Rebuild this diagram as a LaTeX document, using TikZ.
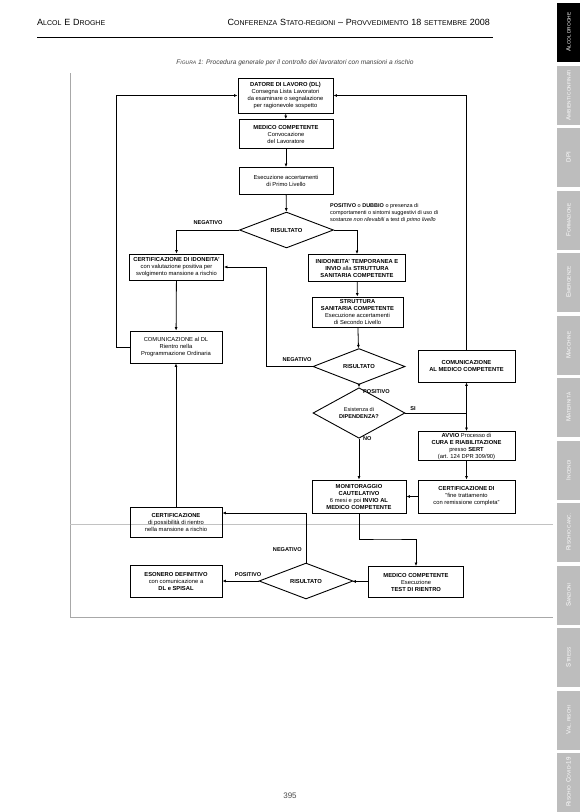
\documentclass[tikz,border=0pt]{standalone}
\usepackage{fontspec}
\setmainfont{Liberation Sans}
\usetikzlibrary{arrows.meta,shapes.geometric,calc}
\newcommand\hdsc[2]{{\fontsize{9}{10}\selectfont #1}{\fontsize{7}{8}\selectfont #2}}
\newcommand\tbsc[2]{{\fontsize{6.2}{7}\selectfont #1}{\fontsize{4.8}{6}\selectfont #2}}
\definecolor{tabgray}{HTML}{BDBDBD}
\definecolor{framegray}{HTML}{A8A8A8}
\begin{document}
\begin{tikzpicture}[x=1pt,y=-1pt,
  bx/.style args={#1x#2}{draw, line width=0.9pt, minimum width=#1, minimum height=#2, inner sep=0pt, align=center, font=\fontsize{5.8}{7}\selectfont},
  dia/.style args={#1x#2}{draw, shape=diamond, line width=0.9pt, minimum width=#1, minimum height=#2, inner sep=0pt, align=center, font=\fontsize{5.8}{7}\selectfont\bfseries},
  arr/.style={line width=0.8pt, -{Latex[length=3.5pt,width=3pt]}},
  ln/.style={line width=0.8pt},
  lbl/.style={inner sep=0pt, font=\fontsize{5.6}{6.6}\selectfont\bfseries},
  tab/.style={fill=tabgray, minimum width=59, minimum height=23, inner sep=0pt, rotate=90, text=white}]
\useasboundingbox (0,0) rectangle (580,812);
\fill[white] (0,0) rectangle (580,812);
% header
\node[anchor=base west, inner sep=0pt] (hl) at (37,25) {\hdsc{A}{LCOL} \hdsc{E}{} \hdsc{D}{ROGHE}};
\node[anchor=base east, inner sep=0pt] (hr) at (490,25) {\hdsc{C}{ONFERENZA} \hdsc{S}{TATO-REGIONI} {\fontsize{9}{10}\selectfont --} \hdsc{P}{ROVVEDIMENTO} {\fontsize{9}{10}\selectfont 18} \hdsc{}{SETTEMBRE} {\fontsize{9}{10}\selectfont 2008}};
\draw[line width=0.8pt] (37,37) -- (493,37);
% sidebar tabs
\node[tab, fill=black] (t0) at (568.5,32) {\tbsc{A}{LCOL DROGHE}};
\node[tab] (t1) at (568.5,95) {\tbsc{A}{MBIENTI CONFINATI}};
\node[tab] (t2) at (568.5,157) {\tbsc{DPI}{}};
\node[tab] (t3) at (568.5,220) {\tbsc{F}{ORMAZIONE}};
\node[tab] (t4) at (568.5,282) {\tbsc{E}{MERGENZE}};
\node[tab] (t5) at (568.5,345) {\tbsc{M}{ACCHINE}};
\node[tab] (t6) at (568.5,407) {\tbsc{M}{ATERNITÀ}};
\node[tab] (t7) at (568.5,470) {\tbsc{I}{NCENDI}};
\node[tab] (t8) at (568.5,532) {\tbsc{R}{ISCHIO CANC.}};
\node[tab] (t9) at (568.5,595) {\tbsc{S}{ANZIONI}};
\node[tab] (t10) at (568.5,657) {\tbsc{S}{TRESS}};
\node[tab] (t11) at (568.5,720) {\tbsc{V}{AL. RISCHI}};
\node[tab] (t12) at (568.5,782) {\tbsc{R}{ISCHIO} \tbsc{C}{OVID}{\fontsize{6.2}{7}\selectfont -19}};
% caption
\node[inner sep=0pt, text=black!75, font=\fontsize{6.6}{8}\selectfont\itshape] (cap) at (295,63) {{\fontsize{6.6}{8}\selectfont F}{\fontsize{5}{6}\selectfont IGURA} 1: Procedura generale per il controllo dei lavoratori con mansioni a rischio};
% frame
\draw[framegray, line width=0.6pt] (70,73) -- (70,617) -- (553,617);
\draw[framegray!70, line width=0.6pt] (70,524) -- (553,524);
% page number
\node[text=black!70, font=\fontsize{8}{9}\selectfont] (pg) at (290,796) {395};
% boxes
\node[bx=95x35] (datore) at (285.5,95.5) {\textbf{DATORE DI LAVORO (DL)}\\Consegna Lista Lavoratori\\da esaminare o segnalazione\\per ragionevole sospetto};
\node[bx=94x29] (medico) at (286,134) {\textbf{MEDICO COMPETENTE}\\Convocazione\\del Lavoratore};
\node[bx=94x27] (esec) at (286,181) {Esecuzione accertamenti\\di Primo Livello};
\node[dia=94x34] (ris1) at (286.5,230) {RISULTATO};
\node[bx=94x26] (cid) at (176.5,267) {\textbf{CERTIFICAZIONE DI IDONEITA'}\\con valutazione positiva per\\svolgimento mansione a rischio};
\node[bx=97x27] (inid) at (357,268) {\textbf{INIDONEITA' TEMPORANEA E}\\\textbf{INVIO} alla \textbf{STRUTTURA}\\\textbf{SANITARIA COMPETENTE}};
\node[bx=91x30] (strutt) at (357.5,312) {\textbf{STRUTTURA}\\\textbf{SANITARIA COMPETENTE}\\Esecuzione accertamenti\\di Secondo Livello};
\node[bx=92x32] (comdl) at (176,347) {COMUNICAZIONE al DL\\Rientro nella\\Programmazione Ordinaria};
\node[dia=92x34] (ris2) at (359,366.5) {RISULTATO};
\node[bx=97x32] (commc) at (466.5,366) {\textbf{COMUNICAZIONE}\\\textbf{AL MEDICO COMPETENTE}};
\node[dia=92x28, font=\fontsize{5.6}{6.6}\selectfont] (dip) at (359,413) {Esistenza di\\\textbf{DIPENDENZA?}};
\node[bx=97x29] (avvio) at (466.5,446) {\textbf{AVVIO} Processo di\\\textbf{CURA E RIABILITAZIONE}\\presso \textbf{SERT}\\(art. 124 DPR 309/90)};
\node[bx=97x33] (certfine) at (466.5,496.5) {\textbf{CERTIFICAZIONE DI}\\"fine trattamento\\con remissione completa"};
\node[bx=94x33] (monit) at (359,496.5) {\textbf{MONITORAGGIO}\\\textbf{CAUTELATIVO}\\6 mesi e poi \textbf{INVIO AL}\\\textbf{MEDICO COMPETENTE}};
\node[bx=92x30] (certposs) at (176,522) {\textbf{CERTIFICAZIONE}\\di possibilità di rientro\\nella mansione a rischio};
\node[bx=95x31] (medico2) at (416,582) {\textbf{MEDICO COMPETENTE}\\Esecuzione\\\textbf{TEST DI RIENTRO}};
\node[dia=94x34] (ris4) at (306,581) {RISULTATO};
\node[bx=92x32] (esonero) at (176,581) {\textbf{ESONERO DEFINITIVO}\\con comunicazione a\\\textbf{DL e SPISAL}};
% helper coordinates
\coordinate (Lc) at (116,347);
\coordinate (n2) at (266,366.5);
\coordinate (jr) at (466.5,413);
\coordinate (jm) at (387,539);
\coordinate (j3) at (306,513);
% connectors
\draw[arr] (datore) -- (medico);
\draw[arr] (medico) -- (esec);
\draw[arr] (esec) -- (ris1);
\draw[arr] (ris1.west) -| (cid.north);
\draw[arr] (ris1.east) -| (inid.north);
\draw[arr] (inid) -- (strutt);
\draw[arr] (strutt) -- (ris2);
\draw[arr] (cid) -- (comdl);
\draw[arr] (ris2.west) -- (n2) |- (cid.east);
\draw[arr] (ris2) -- (dip);
\draw[ln] (dip.east) -- (jr);
\draw[arr] (jr) -- (commc.south);
\draw[arr] (jr) -- (avvio.north);
\draw[arr] (dip) -- (monit);
\draw[arr] (avvio) -- (certfine);
\draw[arr] (certfine) -- (monit);
\draw[arr] (monit.south) |- (jm) -| (medico2.north);
\draw[arr] (medico2) -- (ris4);
\draw[arr] (ris4.west) -- (esonero.east);
\draw[arr] (ris4.north) -- (j3) -- (j3 -| certposs.east);
\draw[arr] (certposs) -- (comdl);
\draw[arr] (comdl.west) -- (Lc) |- (datore.west);
\draw[arr] (commc.north) |- (datore.east);
% labels
\node[lbl] (l1) at (208,223) {NEGATIVO};
\node[lbl, anchor=north west, align=left, font=\fontsize{5.5}{7.2}\selectfont] (l2) at (330,203) {\textbf{POSITIVO} o \textbf{DUBBIO} o presenza di\\comportamenti o sintomi suggestivi di uso di\\sostanze \textit{non rilevabili} a test di \textit{primo livello}};
\node[lbl] (l3) at (297,360) {NEGATIVO};
\node[lbl, anchor=west] (l4) at (363,392) {POSITIVO};
\node[lbl, anchor=west] (l5) at (363,439) {NO};
\node[lbl] (l6) at (413,409) {SI};
\node[lbl] (l7) at (248,575) {POSITIVO};
\node[lbl, anchor=east] (l8) at (302,550) {NEGATIVO};
\end{tikzpicture}
\end{document}
